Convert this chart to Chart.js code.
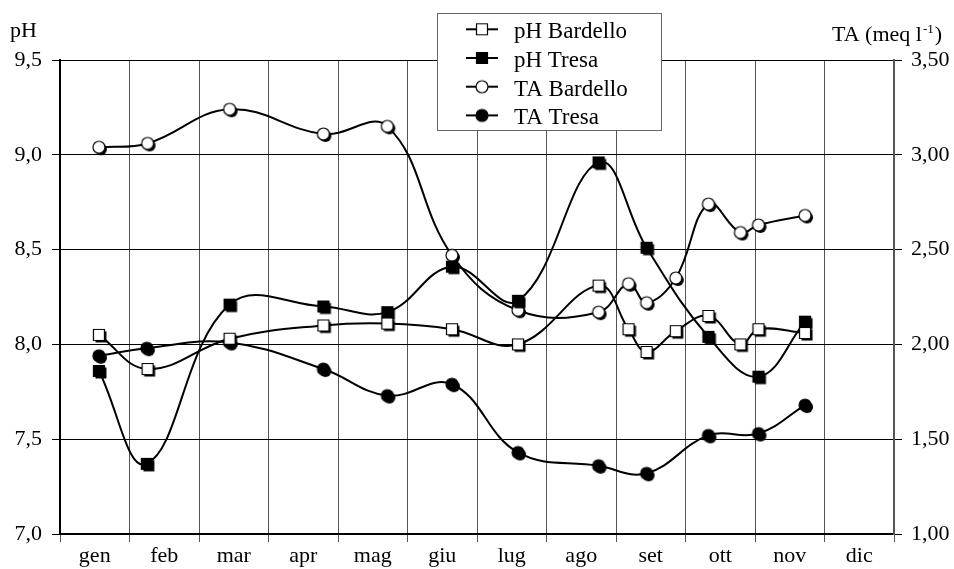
<!DOCTYPE html>
<html>
<head>
<meta charset="utf-8">
<script src="https://cdn.jsdelivr.net/npm/chart.js@4"></script>
<style>
  body { margin: 0; background: #fff; }
</style>
</head>
<body>
<canvas id="myChart" width="954" height="569"></canvas>
<script>
// sampling dates, in months from 1 January
var months = ['gen', 'feb', 'mar', 'apr', 'mag', 'giu', 'lug', 'ago', 'set', 'ott', 'nov', 'dic'];
var bardelloTime = [0.56, 1.26, 2.44, 3.79, 4.71, 5.64, 6.59, 7.75, 8.18, 8.44, 8.86, 9.33, 9.79, 10.05, 10.72];
var phBardello = [8.05, 7.87, 8.03, 8.10, 8.11, 8.08, 8.00, 8.31, 8.08, 7.96, 8.07, 8.15, 8.00, 8.08, 8.06];
var taBardello = [3.04, 3.06, 3.24, 3.11, 3.15, 2.47, 2.18, 2.17, 2.32, 2.22, 2.35, 2.74, 2.59, 2.63, 2.68];
var tresaTime = [0.56, 1.25, 2.44, 3.79, 4.71, 5.64, 6.59, 7.75, 8.44, 9.33, 10.05, 10.72];
var phTresa = [7.86, 7.37, 8.21, 8.20, 8.17, 8.41, 8.23, 8.96, 8.51, 8.04, 7.83, 8.12];
var taTresa = [1.94, 1.98, 2.01, 1.87, 1.73, 1.79, 1.43, 1.36, 1.32, 1.52, 1.53, 1.68];

var phTicks = [7.0, 7.5, 8.0, 8.5, 9.0, 9.5];
var taTicks = [1.00, 1.50, 2.00, 2.50, 3.00, 3.50];

var FONT = '"Liberation Serif", "Times New Roman", serif';

// marker bitmaps: square / circle, open or filled, with a small drop shadow
function makeMarker(shape, filled, shadow) {
    var c = document.createElement('canvas');
    c.width = 22;
    c.height = 22;
    var g = c.getContext('2d');
    var path = function (dx, dy) {
        g.beginPath();
        if (shape === 'square') g.rect(5.5 + dx, 5.5 + dy, 11, 11);
        else g.arc(11 + dx, 11 + dy, 6, 0, Math.PI * 2);
    };
    if (shadow) {
        path(2, 2);
        g.fillStyle = '#000';
        g.fill();
    }
    path(0, 0);
    g.fillStyle = filled ? '#000' : '#fff';
    g.fill();
    g.lineWidth = 1.2;
    g.strokeStyle = '#000';
    g.stroke();
    return c;
}

function toPoints(xs, ys) {
    return xs.map(function (x, i) { return { x: x, y: ys[i] }; });
}

var series = [
    { label: 'pH Bardello', x: bardelloTime, y: phBardello, axis: 'y', shape: 'square', filled: false },
    { label: 'pH Tresa', x: tresaTime, y: phTresa, axis: 'y', shape: 'square', filled: true },
    { label: 'TA Bardello', x: bardelloTime, y: taBardello, axis: 'y2', shape: 'circle', filled: false },
    { label: 'TA Tresa', x: tresaTime, y: taTresa, axis: 'y2', shape: 'circle', filled: true }
];

// legend box and the two axis captions
var captions = {
    id: 'captions',
    afterDraw: function (chart) {
        var ctx = chart.ctx;
        ctx.save();
        ctx.fillStyle = '#000';
        ctx.textBaseline = 'alphabetic';
        ctx.textAlign = 'left';
        ctx.font = '22px ' + FONT;
        ctx.fillText('pH', 10, 37);

        var main = 'TA (meq l';
        ctx.fillText(main, 832, 40.5);
        var x = 832 + ctx.measureText(main).width + 1;
        ctx.font = '13px ' + FONT;
        ctx.fillText('-1', x, 33);
        x += ctx.measureText('-1').width + 1;
        ctx.font = '22px ' + FONT;
        ctx.fillText(')', x, 40.5);

        ctx.fillStyle = '#fff';
        ctx.fillRect(437, 13, 224, 117);
        ctx.strokeStyle = '#666';
        ctx.lineWidth = 1;
        ctx.strokeRect(437.5, 13.5, 224, 117);

        ctx.font = '23px ' + FONT;
        series.forEach(function (s, i) {
            var base = 38.3 + i * 28.7;
            var cy = base - 9;
            ctx.strokeStyle = '#000';
            ctx.lineWidth = 2;
            ctx.beginPath();
            ctx.moveTo(466, cy);
            ctx.lineTo(498, cy);
            ctx.stroke();
            ctx.drawImage(makeMarker(s.shape, s.filled, false), 482 - 11, cy - 11);
            ctx.fillStyle = '#000';
            ctx.fillText(s.label, 514, base);
        });
        ctx.restore();
    }
};

var ctx = document.getElementById('myChart').getContext('2d');
var myChart = new Chart(ctx, {
    type: 'line',
    data: {
        datasets: series.map(function (s) {
            return {
                label: s.label,
                data: toPoints(s.x, s.y),
                yAxisID: s.axis,
                borderColor: '#000',
                borderWidth: 2,
                tension: 0.4,
                pointStyle: makeMarker(s.shape, s.filled, true),
                pointRadius: 6,
                fill: false
            };
        })
    },
    options: {
        responsive: false,
        animation: false,
        layout: { padding: { top: 60 } },
        plugins: {
            legend: { display: false },
            tooltip: { enabled: false }
        },
        scales: {
            x: {
                type: 'linear',
                min: 0,
                max: 12,
                afterFit: function (s) { s.height = 35; },
                grid: { color: '#555', lineWidth: 1, tickLength: 8 },
                border: { color: '#000', width: 2 },
                ticks: {
                    stepSize: 1,
                    autoSkip: false,
                    maxRotation: 0,
                    labelOffset: 34.75,
                    padding: 1,
                    color: '#000',
                    font: { family: FONT, size: 22 },
                    callback: function (v) { return months[v] || ''; }
                }
            },
            y: {
                position: 'left',
                min: phTicks[0],
                max: phTicks[phTicks.length - 1],
                afterFit: function (s) { s.width = 60; },
                afterBuildTicks: function (s) { s.ticks = phTicks.map(function (v) { return { value: v }; }); },
                grid: { color: '#000', lineWidth: 1, tickLength: 8 },
                border: { color: '#000', width: 2 },
                ticks: {
                    padding: 10,
                    color: '#000',
                    font: { family: FONT, size: 22 },
                    callback: function (v) { return v.toFixed(1).replace('.', ','); }
                }
            },
            y2: {
                position: 'right',
                min: taTicks[0],
                max: taTicks[taTicks.length - 1],
                afterFit: function (s) { s.width = 60; },
                afterBuildTicks: function (s) { s.ticks = taTicks.map(function (v) { return { value: v }; }); },
                grid: { drawOnChartArea: false, color: '#000', lineWidth: 1, tickLength: 8 },
                border: { color: '#555', width: 2 },
                ticks: {
                    padding: 9,
                    color: '#000',
                    font: { family: FONT, size: 22 },
                    callback: function (v) { return v.toFixed(2).replace('.', ','); }
                }
            }
        }
    },
    plugins: [captions]
});
</script>
</body>
</html>
